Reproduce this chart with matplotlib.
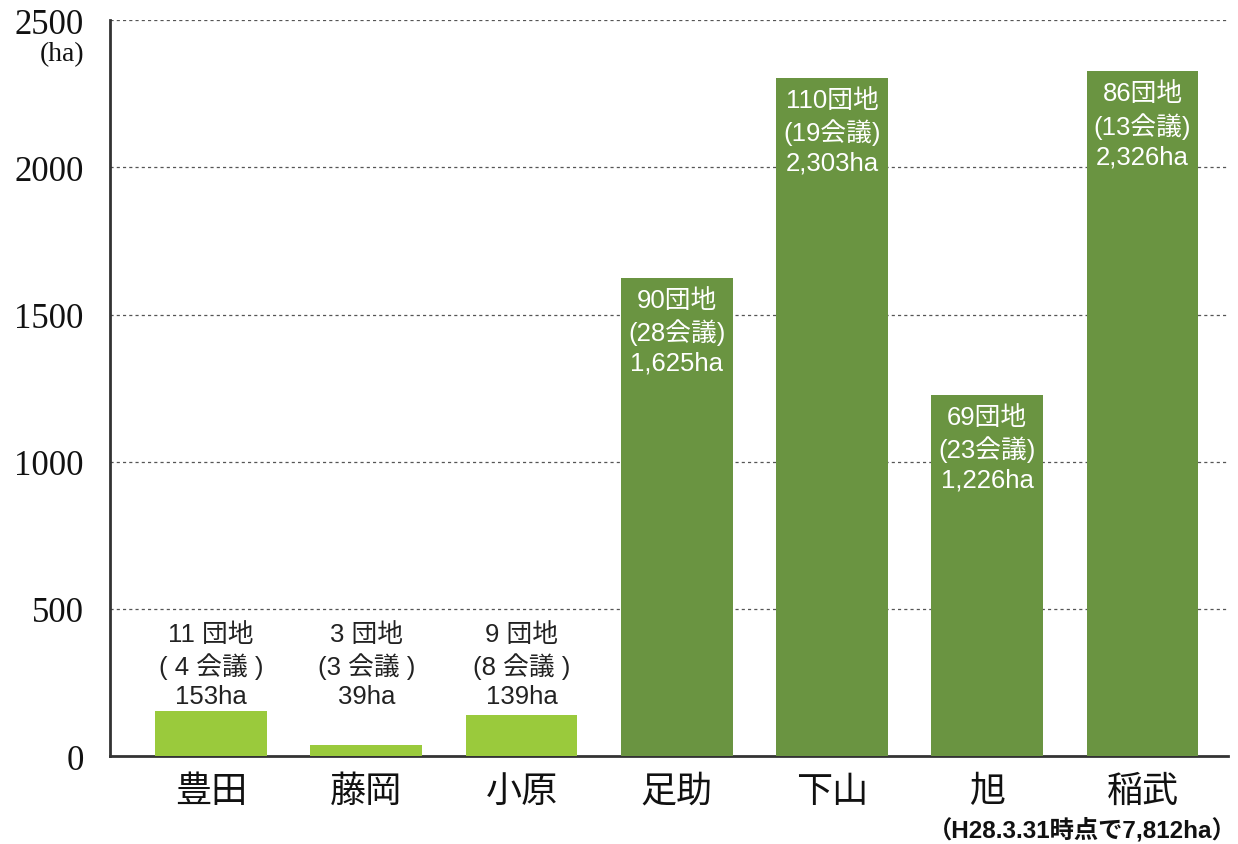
import matplotlib
matplotlib.use('Agg')
import matplotlib.pyplot as plt

plt.rcParams['font.family'] = ['Liberation Sans', 'Noto Sans CJK JP']

areas = ['豊田', '藤岡', '小原', '足助', '下山', '旭', '稲武']
hectares = [153, 39, 139, 1625, 2303, 1226, 2326]
labels = ['11 団地\n( 4 会議 )\n153ha',
          '3 団地\n(3 会議 )\n39ha',
          '9 団地\n(8 会議 )\n139ha',
          '90団地\n(28会議)\n1,625ha',
          '110団地\n(19会議)\n2,303ha',
          '69団地\n(23会議)\n1,226ha',
          '86団地\n(13会議)\n2,326ha']
yticks = [0, 500, 1000, 1500, 2000, 2500]

light = '#9aca3c'
dark = '#6a9441'
colors = [light if v < 1000 else dark for v in hectares]

fig = plt.figure(figsize=(12.38, 8.45), dpi=100)
ax = fig.add_axes([0.0889, 0.104, 0.903, 0.871])

x = range(len(areas))
ax.bar(x, hectares, width=0.72, color=colors, zorder=3)

ax.set_xlim(-0.65, 6.55)
ax.set_ylim(0, 2500)
ax.set_yticks(yticks)
ax.set_yticklabels([str(t) for t in yticks], family='Liberation Serif', fontsize=25, color='#111111')
ax.set_xticks(list(x))
ax.set_xticklabels(areas, fontsize=26, color='#111111', family=['Noto Sans CJK JP'])
ax.tick_params(axis='y', length=0, pad=19)
ax.tick_params(axis='x', length=0, pad=12)

for t in yticks[1:]:
    ax.axhline(t, color='#555555', linestyle=(0, (2.5, 2.5)), linewidth=0.9, zorder=1)

for s in ['top', 'right']:
    ax.spines[s].set_visible(False)
ax.spines['left'].set_linewidth(2)
ax.spines['left'].set_color('#333333')
ax.spines['bottom'].set_linewidth(2)
ax.spines['bottom'].set_color('#333333')

# 行ごとに配置して行間を揃える（和文と欧文で行高が違うため）
low_top = max(v for v in hectares if v < 1000)
above_offsets = [55.5, 33.0, 11.0]
inside_offsets = [-15.8, -38.8, -61.0]
for i, (v, lab) in enumerate(zip(hectares, labels)):
    lines = lab.split('\n')
    if v < 1000:
        for line, off in zip(lines, above_offsets):
            ax.annotate(line, (i, low_top), xytext=(0, off), textcoords='offset points',
                        ha='center', va='center', fontsize=18.5, color='#222222', zorder=4)
    else:
        for line, off in zip(lines, inside_offsets):
            ax.annotate(line, (i, v), xytext=(0, off), textcoords='offset points',
                        ha='center', va='center', fontsize=18.5, color='white', zorder=4)

fig.text(84 / 1238, 1 - 55 / 845, '(ha)', family='Liberation Serif', fontsize=20,
         ha='right', va='center', color='#111111')
fig.text(0.999, 1 - 830 / 845, '（H28.3.31時点で7,812ha）', fontsize=17.5,
         fontweight='bold', ha='right', va='center', color='#111111')

fig.savefig('out.png', dpi=100)
